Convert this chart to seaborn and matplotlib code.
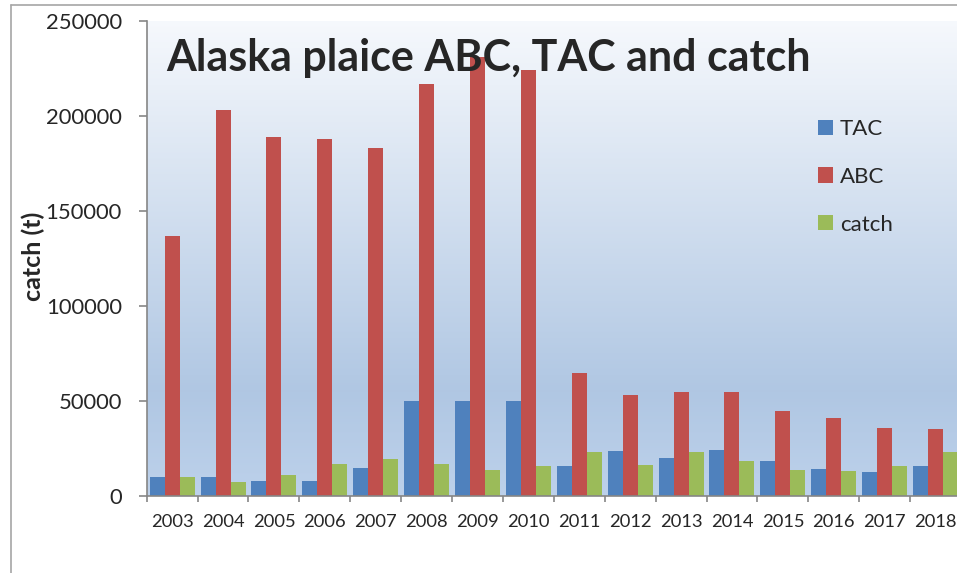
import pandas as pd
import numpy as np
import matplotlib.pyplot as plt
import seaborn as sns
from matplotlib.lines import Line2D

# Datos del grafico
years = [str(y) for y in range(2003, 2019)]
tac = [10000, 10000, 8000, 8000, 15000, 50000, 50000, 50000,
       16000, 24000, 20000, 24500, 18500, 14500, 13000, 16000]
abc = [137000, 203000, 189000, 188000, 183000, 217000, 231000, 224000,
       65000, 53500, 55000, 55000, 45000, 41000, 36000, 35500]
catch = [10000, 7500, 11000, 17000, 19500, 17000, 14000, 16000,
         23500, 16500, 23500, 18500, 14000, 13500, 16000, 23500]
series = ['TAC', 'ABC', 'catch']
colores = ['#4f81bd', '#c0504d', '#9bbb59']

df = pd.DataFrame({'year': years, 'TAC': tac, 'ABC': abc, 'catch': catch})
df_long = df.melt(id_vars='year', value_vars=series, var_name='serie', value_name='valor')

sns.set_theme(style='white')
plt.rcParams['font.family'] = ['Lato', 'DejaVu Sans']

W, H = 957, 573
fig = plt.figure(figsize=(W / 100, H / 100), dpi=100)
fig.patch.set_facecolor('white')

# Area del grafico (se corta por la derecha como en la imagen)
x0, x1, y0, y1 = 146.7, 961, 21, 496.3
ax = fig.add_axes([x0 / W, 1 - y1 / H, (x1 - x0) / W, (y1 - y0) / H])

# Fondo degradado
grad = np.linspace(0, 1, 256)
top = np.array([0.965, 0.975, 0.99])
mid = np.array([0.69, 0.78, 0.89])
bot = np.array([0.74, 0.82, 0.92])
cols = np.where(grad[:, None] < 0.78,
                top + (mid - top) * (grad[:, None] / 0.78),
                mid + (bot - mid) * ((grad[:, None] - 0.78) / 0.22))
ax.imshow(cols[:, None, :], extent=(-0.5, 15.5, 0, 250000), aspect='auto', zorder=0)

sns.barplot(data=df_long, x='year', y='valor', hue='serie', hue_order=series,
            palette=colores, width=0.885, gap=0, errorbar=None, saturation=1,
            linewidth=0, ax=ax, zorder=2)

ax.set_xlim(-0.5, 15.5)
ax.set_ylim(0, 250000)
ax.set_yticks(range(0, 250001, 50000))
ax.set_yticklabels([str(v) for v in range(0, 250001, 50000)])
ax.set_xlabel('')
ax.set_ylabel('')

for s in ['top', 'right']:
    ax.spines[s].set_visible(False)
for s in ['left', 'bottom']:
    ax.spines[s].set_color('#868686')
    ax.spines[s].set_linewidth(1.2)

ax.tick_params(axis='y', direction='out', length=6, width=1.2, color='#868686',
               labelsize=15.8, pad=12, left=True)
ax.set_xticks(np.arange(-0.5, 15.6, 1), minor=True)
ax.tick_params(axis='x', which='minor', direction='out', length=4.5, width=1.2,
               color='#868686', bottom=True)
ax.tick_params(axis='x', which='major', length=0, labelsize=13.2, pad=13)

# Leyenda
ax.legend(frameon=False, fontsize=16, loc='upper left',
          bbox_to_anchor=(818 / W, 1 - 119 / H), bbox_transform=fig.transFigure,
          borderpad=0, borderaxespad=0, handlelength=0.68, handleheight=0.68,
          handletextpad=0.3, labelspacing=1.25)

# Titulo y etiqueta del eje y
fig.text(166 / W, 1 - 70.7 / H, 'Alaska plaice ABC, TAC and catch',
         fontsize=31, fontweight='bold', va='baseline', ha='left', zorder=10)
fig.text(33 / W, 1 - 256 / H, 'catch (t)', fontsize=18, fontweight='bold',
         rotation=90, va='center', ha='center')

# Borde del area del grafico
fig.add_artist(Line2D([11 / W, 11 / W], [0, 1 - 4.5 / H], color='#a6a6a6', lw=1.2))
fig.add_artist(Line2D([11 / W, 1], [1 - 4.5 / H, 1 - 4.5 / H], color='#a6a6a6', lw=1.2))

fig.savefig('out.png', dpi=100)
